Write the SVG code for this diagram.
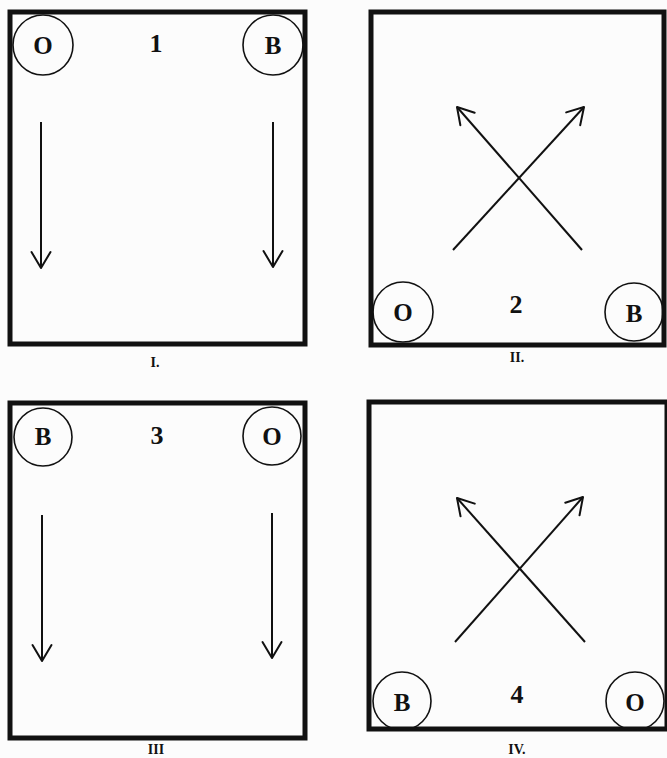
<svg xmlns="http://www.w3.org/2000/svg" width="667" height="758" viewBox="0 0 667 758">
<defs>
<style>
.frame{fill:none;stroke:#111;stroke-width:5}
.disc{fill:none;stroke:#111;stroke-width:1.6}
.arr{fill:none;stroke:#111;stroke-width:2;marker-end:url(#v)}
.ltr{font-family:"Liberation Serif",serif;font-weight:bold;font-size:25px;fill:#111;text-anchor:middle}
.num{font-family:"Liberation Serif",serif;font-weight:bold;font-size:26px;fill:#111;text-anchor:middle}
.cap{font-family:"Liberation Serif",serif;font-weight:bold;font-size:14px;fill:#111;text-anchor:middle}
</style>
<marker id="v" markerUnits="userSpaceOnUse" viewBox="-20 -12 24 24" markerWidth="24" markerHeight="24" refX="0" refY="0" orient="auto" overflow="visible">
<path d="M-16,-9.5 L0,0 L-16,9.5" fill="none" stroke="#111" stroke-width="2" stroke-linecap="round" stroke-linejoin="round"/>
</marker>
</defs>
<rect x="0" y="0" width="667" height="758" fill="#fcfcfc"/>

<g id="panel1">
<rect class="frame" x="10" y="12" width="295" height="332"/>
<g id="p1-O"><circle class="disc" cx="43" cy="45" r="30"/><text class="ltr" x="43" y="54">O</text></g>
<g id="p1-B"><circle class="disc" cx="273" cy="45" r="30"/><text class="ltr" x="273" y="54">B</text></g>
<text class="num" x="156" y="52">1</text>
<text class="cap" x="155" y="367">I.</text>
</g>

<g id="panel2">
<rect class="frame" x="371" y="12" width="293" height="333"/>
<g id="p2-O"><circle class="disc" cx="403" cy="312" r="30"/><text class="ltr" x="403" y="321">O</text></g>
<g id="p2-B"><circle class="disc" cx="634" cy="312" r="29"/><text class="ltr" x="634" y="322">B</text></g>
<text class="num" x="516" y="313">2</text>
<text class="cap" x="517" y="362">II.</text>
</g>

<g id="panel3">
<rect class="frame" x="10" y="403" width="295" height="335"/>
<g id="p3-B"><circle class="disc" cx="43" cy="437" r="29"/><text class="ltr" x="43" y="445">B</text></g>
<g id="p3-O"><circle class="disc" cx="272" cy="436" r="29"/><text class="ltr" x="272" y="445">O</text></g>
<text class="num" x="157" y="444">3</text>
<text class="cap" x="156" y="754">III</text>
</g>

<g id="panel4">
<rect class="frame" x="369" y="402" width="298" height="327"/>
<g id="p4-B"><circle class="disc" cx="402" cy="701" r="29"/><text class="ltr" x="402" y="711">B</text></g>
<g id="p4-O"><circle class="disc" cx="635" cy="701" r="29"/><text class="ltr" x="635" y="711">O</text></g>
<text class="num" x="517" y="703">4</text>
<text class="cap" x="517" y="754">IV.</text>
</g>

<g id="connectors">
<line class="arr" x1="41" y1="122" x2="41" y2="268"/>
<line class="arr" x1="273" y1="122" x2="273" y2="267"/>
<line class="arr" x1="453" y1="250" x2="584" y2="107"/>
<line class="arr" x1="582" y1="250" x2="457" y2="107"/>
<line class="arr" x1="42" y1="515" x2="42" y2="661"/>
<line class="arr" x1="272" y1="513" x2="272" y2="658"/>
<line class="arr" x1="455" y1="642" x2="583" y2="497"/>
<line class="arr" x1="585" y1="642" x2="457" y2="498"/>
</g>
</svg>
